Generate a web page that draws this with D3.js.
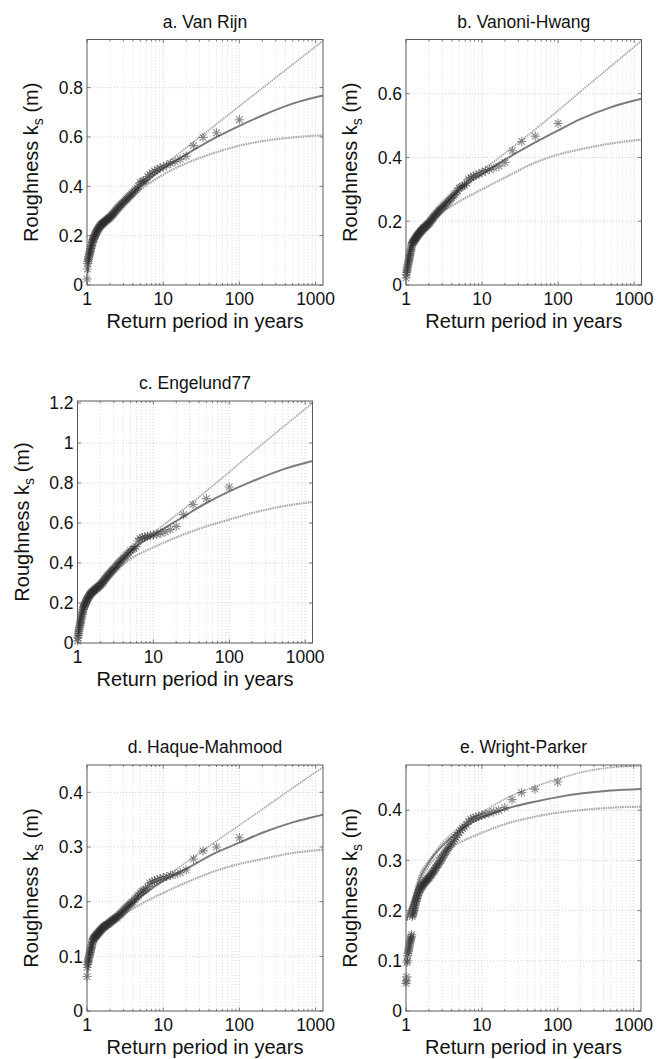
<!DOCTYPE html>
<html><head><meta charset="utf-8">
<script src="https://cdn.jsdelivr.net/npm/d3@7/dist/d3.min.js"></script>
<style>
body{margin:0;background:#fff;}
svg{display:block;font-family:"Liberation Sans",Arial,Helvetica,sans-serif;}
</style></head><body>
<svg id="chart" width="657" height="1059"></svg>
<script>
// ---------------- DATA ----------------
// Return periods (years) of the ranked annual observations
const returnPeriods = [100,50,33.3,25,20,16.7,14.3,12.5,11.1,10,9.09,8.33,7.69,7.14,6.67,6.25,5.88,5.56,5.26,5,
4.76,4.55,4.35,4.17,4,3.85,3.7,3.57,3.45,3.33,3.23,3.13,3.03,2.94,2.86,2.78,2.7,2.63,2.56,2.5,
2.44,2.38,2.33,2.27,2.22,2.17,2.13,2.08,2.04,2,1.96,1.92,1.89,1.85,1.82,1.79,1.75,1.72,1.69,1.67,
1.64,1.61,1.59,1.56,1.54,1.52,1.49,1.47,1.45,1.43,1.41,1.39,1.37,1.35,1.33,1.32,1.3,1.28,1.27,1.25,
1.23,1.22,1.2,1.19,1.18,1.16,1.15,1.14,1.12,1.11,1.1,1.09,1.08,1.06,1.05,1.04,1.03,1.02,1.01,1];

// Return periods at which the fitted curves are sampled
const curvePeriods = [1.02,1.05,1.1,1.2,1.5,2,3,5,10,20,50,100,200,500,1250];

const panelTitles = ["a. Van Rijn","b. Vanoni-Hwang","c. Engelund77","d. Haque-Mahmood","e. Wright-Parker"];
const xTickValues = [1,10,100,1000];
const xTickLabels = ["1","10","100","1000"];
const yTicksA = [0,0.2,0.4,0.6,0.8];
const yTicksB = [0,0.2,0.4,0.6];
const yTicksC = [0,0.2,0.4,0.6,0.8,1,1.2];
const yTicksD = [0,0.1,0.2,0.3,0.4];
const yTicksE = [0,0.1,0.2,0.3,0.4];
const yMaxValues = [0.995,0.77,1.21,0.45,0.49];

// a. Van Rijn
const starsA = [0.670,0.617,0.598,0.565,0.522,0.510,0.500,0.493,0.486,0.478,0.474,0.468,0.462,0.455,0.447,0.440,0.425,0.422,0.419,0.415,
0.400,0.393,0.386,0.380,0.374,0.369,0.364,0.359,0.354,0.349,0.345,0.341,0.336,0.332,0.328,0.324,0.320,0.316,0.313,0.309,
0.305,0.301,0.297,0.293,0.290,0.286,0.283,0.280,0.277,0.274,0.272,0.270,0.268,0.266,0.264,0.262,0.260,0.258,0.256,0.254,
0.252,0.250,0.248,0.246,0.244,0.242,0.240,0.237,0.234,0.231,0.228,0.225,0.222,0.219,0.216,0.212,0.208,0.204,0.200,0.196,
0.192,0.188,0.184,0.178,0.172,0.166,0.160,0.154,0.148,0.142,0.136,0.130,0.124,0.117,0.110,0.103,0.095,0.087,0.065,0.025];
const upperA  = [0.06,0.12,0.155,0.20,0.25,0.285,0.34,0.41,0.483,0.556,0.652,0.725,0.798,0.894,0.99];
const middleA = [0.05,0.11,0.145,0.19,0.245,0.278,0.333,0.398,0.472,0.529,0.599,0.645,0.687,0.735,0.768];
const lowerA  = [0.04,0.10,0.135,0.18,0.235,0.27,0.322,0.385,0.447,0.493,0.538,0.565,0.583,0.598,0.607];

// b. Vanoni-Hwang
const starsB = [0.507,0.467,0.450,0.421,0.384,0.373,0.367,0.362,0.358,0.353,0.349,0.345,0.341,0.337,0.332,0.320,0.313,0.310,0.307,0.304,
0.295,0.289,0.284,0.279,0.274,0.270,0.266,0.262,0.258,0.254,0.251,0.248,0.245,0.241,0.238,0.235,0.232,0.229,0.226,0.223,
0.220,0.217,0.214,0.211,0.208,0.205,0.202,0.199,0.196,0.193,0.191,0.189,0.188,0.186,0.184,0.182,0.180,0.179,0.177,0.175,
0.173,0.171,0.170,0.168,0.166,0.164,0.162,0.160,0.158,0.156,0.154,0.152,0.150,0.148,0.146,0.144,0.142,0.140,0.138,0.136,
0.134,0.132,0.129,0.123,0.117,0.111,0.105,0.099,0.093,0.087,0.081,0.075,0.069,0.063,0.057,0.051,0.045,0.039,0.032,0.022];
const upperB  = [0.04,0.08,0.105,0.14,0.18,0.205,0.25,0.305,0.36,0.413,0.488,0.547,0.608,0.687,0.766];
const middleB = [0.035,0.075,0.10,0.135,0.175,0.20,0.245,0.298,0.348,0.393,0.447,0.485,0.521,0.558,0.584];
const lowerB  = [0.03,0.07,0.095,0.13,0.17,0.192,0.228,0.262,0.30,0.337,0.384,0.409,0.426,0.444,0.456];

// c. Engelund77
const starsC = [0.780,0.722,0.692,0.642,0.583,0.567,0.556,0.549,0.544,0.540,0.537,0.534,0.531,0.527,0.523,0.510,0.482,0.474,0.468,0.462,
0.452,0.444,0.437,0.430,0.423,0.416,0.409,0.403,0.397,0.390,0.384,0.378,0.372,0.366,0.361,0.356,0.351,0.346,0.341,0.336,
0.331,0.326,0.321,0.316,0.311,0.306,0.302,0.298,0.294,0.290,0.287,0.284,0.282,0.279,0.277,0.274,0.272,0.269,0.267,0.264,
0.262,0.259,0.257,0.254,0.252,0.250,0.247,0.244,0.240,0.236,0.232,0.228,0.224,0.220,0.216,0.212,0.207,0.202,0.197,0.192,
0.187,0.182,0.176,0.168,0.160,0.152,0.143,0.134,0.125,0.116,0.107,0.098,0.088,0.078,0.068,0.058,0.048,0.037,0.026,0.010];
const upperC  = [0.06,0.11,0.14,0.19,0.255,0.30,0.375,0.47,0.552,0.64,0.76,0.855,0.952,1.077,1.20];
const middleC = [0.05,0.10,0.13,0.18,0.245,0.29,0.365,0.458,0.54,0.61,0.70,0.758,0.808,0.867,0.91];
const lowerC  = [0.04,0.09,0.12,0.17,0.235,0.28,0.35,0.42,0.478,0.528,0.583,0.617,0.65,0.683,0.705];

// d. Haque-Mahmood
const starsD = [0.317,0.300,0.293,0.278,0.258,0.253,0.250,0.248,0.246,0.244,0.242,0.240,0.238,0.236,0.234,0.227,0.223,0.221,0.219,0.216,
0.212,0.209,0.206,0.203,0.200,0.198,0.196,0.194,0.192,0.190,0.188,0.186,0.184,0.182,0.180,0.178,0.177,0.175,0.174,0.172,
0.171,0.170,0.169,0.168,0.167,0.166,0.165,0.164,0.163,0.162,0.161,0.160,0.159,0.158,0.158,0.157,0.156,0.155,0.155,0.154,
0.153,0.152,0.151,0.150,0.149,0.148,0.147,0.146,0.145,0.144,0.143,0.142,0.141,0.140,0.139,0.138,0.137,0.136,0.135,0.134,
0.133,0.132,0.131,0.128,0.125,0.122,0.119,0.116,0.113,0.110,0.107,0.104,0.101,0.098,0.095,0.092,0.089,0.085,0.080,0.063];
const upperD  = [0.075,0.10,0.115,0.133,0.155,0.167,0.185,0.213,0.243,0.272,0.311,0.340,0.369,0.408,0.446];
const middleD = [0.07,0.095,0.11,0.13,0.152,0.164,0.182,0.208,0.238,0.26,0.29,0.308,0.326,0.345,0.359];
const lowerD  = [0.065,0.09,0.105,0.125,0.148,0.16,0.176,0.195,0.216,0.235,0.257,0.269,0.278,0.289,0.295];

// e. Wright-Parker
const starsE = [0.456,0.442,0.435,0.421,0.405,0.400,0.397,0.394,0.392,0.390,0.388,0.386,0.384,0.382,0.378,0.371,0.367,0.364,0.360,0.355,
0.350,0.346,0.342,0.338,0.334,0.331,0.327,0.324,0.320,0.317,0.313,0.310,0.306,0.303,0.300,0.297,0.294,0.291,0.289,0.286,
0.284,0.281,0.279,0.277,0.275,0.273,0.271,0.269,0.267,0.265,0.264,0.263,0.261,0.260,0.259,0.257,0.256,0.254,0.253,0.251,
0.250,0.248,0.247,0.245,0.243,0.241,0.239,0.236,0.233,0.230,0.227,0.224,0.221,0.218,0.215,0.211,0.207,0.204,0.200,0.197,
0.194,0.191,0.188,0.152,0.148,0.145,0.142,0.139,0.135,0.131,0.127,0.123,0.119,0.115,0.110,0.100,0.097,0.068,0.060,0.055];
const upperE  = [0.185,0.195,0.205,0.222,0.27,0.30,0.335,0.365,0.395,0.422,0.447,0.462,0.475,0.485,0.488];
const middleE = [0.18,0.19,0.20,0.215,0.262,0.296,0.329,0.359,0.385,0.402,0.417,0.426,0.433,0.439,0.442];
const lowerE  = [0.18,0.19,0.198,0.21,0.255,0.289,0.316,0.335,0.355,0.372,0.387,0.395,0.40,0.405,0.407];

// ---------------- LAYOUT ----------------
const xMin = 1, xMax = 1250;
const boxes = [
  {x:87,  y:39.5, w:236,   h:245.5},
  {x:406, y:39.5, w:235.5, h:245.5},
  {x:77.5,y:401,  w:235,   h:242},
  {x:87,  y:765,  w:236,   h:246},
  {x:406, y:765,  w:235,   h:246}
];
const panels = [
  {title:panelTitles[0], stars:starsA, up:upperA, mid:middleA, lo:lowerA, yMax:yMaxValues[0], yTicks:yTicksA},
  {title:panelTitles[1], stars:starsB, up:upperB, mid:middleB, lo:lowerB, yMax:yMaxValues[1], yTicks:yTicksB},
  {title:panelTitles[2], stars:starsC, up:upperC, mid:middleC, lo:lowerC, yMax:yMaxValues[2], yTicks:yTicksC},
  {title:panelTitles[3], stars:starsD, up:upperD, mid:middleD, lo:lowerD, yMax:yMaxValues[3], yTicks:yTicksD},
  {title:panelTitles[4], stars:starsE, up:upperE, mid:middleE, lo:lowerE, yMax:yMaxValues[4], yTicks:yTicksE}
];

const svg = d3.select("#chart");
const fmt = v => (v === 0 ? "0" : String(+v.toFixed(2)));

// minor grid positions on log axis
const minorX = [];
for (let k = 0; k < 4; k++) for (let j = 2; j <= 9; j++) { const v = j * Math.pow(10, k); if (v < xMax) minorX.push(v); }

panels.forEach((p, i) => {
  const b = boxes[i];
  const g = svg.append("g").attr("transform", `translate(${b.x},${b.y})`);
  const x = d3.scaleLog().domain([xMin, xMax]).range([0, b.w]);
  const y = d3.scaleLinear().domain([0, p.yMax]).range([b.h, 0]);

  // grid
  const grid = g.append("g");
  grid.selectAll(".mx").data(minorX).join("line")
    .attr("x1", d => x(d)).attr("x2", d => x(d)).attr("y1", 0).attr("y2", b.h)
    .attr("stroke", "#cfcfcf").attr("stroke-width", 0.7).attr("stroke-dasharray", "1,2");
  grid.selectAll(".Mx").data(xTickValues.slice(1)).join("line")
    .attr("x1", d => x(d)).attr("x2", d => x(d)).attr("y1", 0).attr("y2", b.h)
    .attr("stroke", "#c2c2c2").attr("stroke-width", 0.8).attr("stroke-dasharray", "1,2");
  grid.selectAll(".My").data(p.yTicks.filter(v => v > 0)).join("line")
    .attr("x1", 0).attr("x2", b.w).attr("y1", d => y(d)).attr("y2", d => y(d))
    .attr("stroke", "#c8c8c8").attr("stroke-width", 0.8).attr("stroke-dasharray", "1,2");

  // curves
  const line = d3.line().x((d, k) => x(curvePeriods[k])).y(d => y(d)).curve(d3.curveMonotoneX);
  const clipId = "clip" + i;
  g.append("clipPath").attr("id", clipId).append("rect").attr("width", b.w).attr("height", b.h);
  const cg = g.append("g").attr("clip-path", `url(#${clipId})`);
  cg.append("path").attr("d", line(p.lo)).attr("fill", "none")
    .attr("stroke", "#a9a9a9").attr("stroke-width", 2.2).attr("stroke-dasharray", "1.6,0.8");
  cg.append("path").attr("d", line(p.up)).attr("fill", "none")
    .attr("stroke", "#a4a4a4").attr("stroke-width", 1.7).attr("stroke-dasharray", "1.4,0.8");
  cg.append("path").attr("d", line(p.mid)).attr("fill", "none")
    .attr("stroke", "#7c7c7c").attr("stroke-width", 2);

  // star markers
  const r = 4.6, dd = r * 0.72;
  const starPath = `M${-r},0L${r},0M0,${-r}L0,${r}M${-dd},${-dd}L${dd},${dd}M${-dd},${dd}L${dd},${-dd}`;
  g.append("g").selectAll("path").data(p.stars).join("path")
    .attr("transform", (d, k) => `translate(${x(returnPeriods[k])},${y(d)})`)
    .attr("d", starPath).attr("fill", "none")
    .attr("stroke", "#303030").attr("stroke-width", 1.1).attr("stroke-opacity", 0.55);

  // box
  g.append("rect").attr("width", b.w).attr("height", b.h).attr("fill", "none")
    .attr("stroke", "#5a5a5a").attr("stroke-width", 1);

  // ticks (inside, all four sides)
  const tk = g.append("g").attr("stroke", "#5a5a5a").attr("stroke-width", 0.8);
  xTickValues.forEach(v => {
    const px = x(v);
    tk.append("line").attr("x1", px).attr("x2", px).attr("y1", b.h).attr("y2", b.h - 3.5);
    tk.append("line").attr("x1", px).attr("x2", px).attr("y1", 0).attr("y2", 3.5);
  });
  minorX.forEach(v => {
    const px = x(v);
    tk.append("line").attr("x1", px).attr("x2", px).attr("y1", b.h).attr("y2", b.h - 2);
    tk.append("line").attr("x1", px).attr("x2", px).attr("y1", 0).attr("y2", 2);
  });
  p.yTicks.forEach(v => {
    const py = y(v);
    tk.append("line").attr("x1", 0).attr("x2", 3.5).attr("y1", py).attr("y2", py);
    tk.append("line").attr("x1", b.w).attr("x2", b.w - 3.5).attr("y1", py).attr("y2", py);
  });

  // tick labels
  g.append("g").selectAll("text").data(xTickValues).join("text")
    .attr("x", d => x(d)).attr("y", b.h + 19.5).attr("text-anchor", "middle")
    .attr("font-size", 17.5).attr("fill", "#111").text((d, k) => xTickLabels[k]);
  g.append("g").selectAll("text").data(p.yTicks).join("text")
    .attr("x", -4).attr("y", d => y(d) + 6.3).attr("text-anchor", "end")
    .attr("font-size", 17.5).attr("fill", "#111").text(d => fmt(d));

  // title
  g.append("text").attr("x", b.w / 2).attr("y", -12).attr("text-anchor", "middle")
    .attr("font-size", 17.5).attr("fill", "#111").text(p.title);

  // x label
  g.append("text").attr("x", b.w / 2).attr("y", b.h + 43).attr("text-anchor", "middle")
    .attr("font-size", 20).attr("fill", "#111").text("Return period in years");

  // y label
  const yl = g.append("text")
    .attr("transform", `translate(-49,${b.h / 2}) rotate(-90)`)
    .attr("text-anchor", "middle").attr("font-size", 20).attr("fill", "#111");
  yl.append("tspan").text("Roughness k");
  yl.append("tspan").attr("font-size", 14).attr("dy", 5).text("s");
  yl.append("tspan").attr("dy", -5).text(" (m)");
});
</script>
</body></html>
